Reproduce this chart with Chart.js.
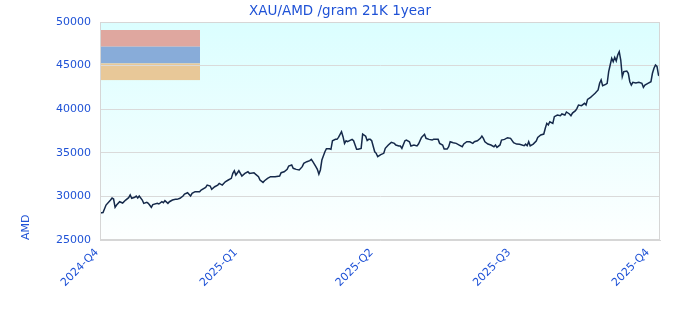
<!DOCTYPE html>
<html>
<head>
<meta charset="utf-8">
<script src="https://cdn.jsdelivr.net/npm/chart.js@4/dist/chart.umd.min.js"></script>
<style>
html,body{margin:0;padding:0;background:#fff;}
#wrap{width:680px;height:320px;}
</style>
</head>
<body>
<div id="wrap"><canvas id="c" width="680" height="320"></canvas></div>
<script>
const chartTitle = "XAU/AMD /gram 21K 1year";
const yAxisTitle = "AMD";
const quarterLabels = ["2024-Q4", "2025-Q1", "2025-Q2", "2025-Q3", "2025-Q4"];
const quarterDays = [0, 92, 182, 273, 365];
const lastDay = 371;
const yTicks = [25000, 30000, 35000, 40000, 45000, 50000];
const legendColors = ["#dfa79f", "#88acd9", "#e8c898"];

// day offset from 2024-10-01
const days = [0,2,4,7,8,9,10,11,13,15,17,19,20,21,23,24,25,26,28,29,31,32,34,35,38,39,41,42,43,45,46,48,50,51,53,55,56,58,60,61,63,66,67,70,71,73,74,76,78,79,81,83,85,87,88,89,90,92,93,94,96,98,99,102,103,105,106,108,109,111,113,116,119,120,122,124,125,127,128,130,132,134,135,137,139,140,141,143,144,145,146,147,149,150,152,153,154,156,157,158,160,161,162,163,164,167,168,170,171,173,174,176,177,178,179,180,182,183,184,186,188,189,191,193,195,196,198,199,200,202,203,205,206,208,210,211,213,215,216,218,220,221,224,225,227,228,230,231,232,234,236,238,240,241,243,245,247,248,250,252,253,254,255,257,259,261,262,263,265,266,268,270,272,274,276,278,281,282,283,284,285,287,289,290,292,294,295,296,297,298,300,301,303,305,306,308,309,311,312,313,315,316,317,319,321,322,323,325,326,328,330,331,332,333,335,336,337,338,339,340,341,342,343,344,345,346,347,349,350,351,352,353,355,357,359,360,361,363,365,366,367,368,369,370,371];
const prices = [28100,28150,29010,29580,29810,29700,28750,29010,29390,29240,29580,29850,30160,29780,29900,30040,29820,30040,29580,29200,29320,29200,28750,29060,29200,29130,29390,29280,29510,29200,29390,29580,29660,29660,29780,30040,30270,30420,30040,30350,30540,30540,30730,31040,31300,31190,30810,31110,31300,31490,31300,31680,31880,32070,32640,32940,32450,32940,32640,32340,32640,32830,32640,32720,32560,32260,31880,31610,31800,32070,32260,32260,32330,32720,32830,33100,33480,33600,33220,33100,33030,33410,33790,33980,34100,34250,33980,33410,33100,32560,33030,34170,35120,35470,35470,35400,36380,36540,36540,36770,37420,36850,36080,36380,36270,36540,36380,35400,35400,35500,37150,36900,36400,36540,36540,36380,35120,34940,34550,34790,34940,35510,35890,36200,36080,35890,35780,35780,35510,36380,36460,36270,35780,35890,35780,36010,36770,37120,36660,36540,36460,36540,36540,36080,35890,35430,35430,35700,36270,36150,36080,35890,35700,36010,36270,36270,36080,36270,36380,36660,36920,36660,36270,36010,35890,35700,35890,35620,35900,36460,36540,36730,36660,36150,36000,35990,35810,35990,35810,36270,35800,36000,36350,36770,37040,37150,37810,38380,38200,38560,38380,39140,39330,39250,39450,39330,39680,39450,39250,39560,39830,40100,40480,40400,40670,40480,41130,41360,41510,41820,42200,42970,43350,42690,42850,42970,44300,45070,45840,45450,45950,45530,46210,46590,45640,43730,44300,44380,44120,43150,42770,43080,43000,43080,42970,42510,42770,42970,43150,44120,44700,45070,44900,43920,43800];

const points = days.map((d, i) => ({x: d, y: prices[i]}));

const blue = "#1f52d6";
const fontFam = "'DejaVu Sans', sans-serif";

const bgPlugin = {
  id: 'bg',
  beforeDraw(chart) {
    const {ctx, chartArea: a} = chart;
    ctx.save();
    const g = ctx.createLinearGradient(0, a.top, 0, a.bottom);
    g.addColorStop(0, '#dbfeff');
    g.addColorStop(1, '#fdffff');
    ctx.fillStyle = g;
    ctx.fillRect(a.left, a.top, a.right - a.left, a.bottom - a.top);
    const w = 99, h = 16.7;
    legendColors.forEach((c, i) => {
      ctx.fillStyle = c;
      ctx.fillRect(a.left + 1, a.top + 8 + i * h, w, h);
    });
    // title
    ctx.fillStyle = blue;
    ctx.font = "13.5px " + fontFam;
    ctx.textAlign = 'center';
    ctx.textBaseline = 'middle';
    ctx.fillText(chartTitle, chart.width / 2, 11);
    ctx.restore();
  },
  afterDraw(chart) {
    const {ctx, chartArea: a} = chart;
    ctx.save();
    ctx.strokeStyle = '#d6d6d6';
    ctx.lineWidth = 1;
    ctx.strokeRect(Math.round(a.left) + 0.5, Math.round(a.top) + 0.5, Math.round(a.right - a.left) - 1, Math.round(a.bottom - a.top) - 1);
    ctx.restore();
  }
};

new Chart(document.getElementById('c'), {
  type: 'line',
  data: {
    datasets: [{
      data: points,
      borderColor: '#15294a',
      borderWidth: 1.5,
      pointRadius: 0,
      tension: 0,
      fill: false
    }]
  },
  options: {
    responsive: false,
    animation: false,
    layout: {padding: {left: 0, right: 20, top: 22, bottom: 0}},
    plugins: {
      legend: {display: false},
      tooltip: {enabled: false},
      title: {display: false}
    },
    scales: {
      x: {
        type: 'linear',
        min: 0,
        max: lastDay,
        afterBuildTicks(scale) {
          scale.ticks = quarterDays.map(v => ({value: v}));
        },
        afterFit(scale) { scale.height = 80; },
        grid: {display: false, drawTicks: false},
        border: {display: true, color: '#d6d6d6'},
        ticks: {
          autoSkip: false,
          minRotation: 45,
          maxRotation: 45,
          padding: 6,
          labelOffset: -3,
          color: blue,
          font: {family: fontFam, size: 11},
          callback(v) {
            const i = quarterDays.indexOf(v);
            return i >= 0 ? quarterLabels[i] : '';
          }
        }
      },
      y: {
        min: 25000,
        max: 50000,
        afterBuildTicks(scale) {
          scale.ticks = yTicks.map(v => ({value: v}));
        },
        afterFit(scale) { scale.width = 100; },
        grid: {color: '#dadada', drawTicks: false},
        border: {display: true, color: '#d6d6d6'},
        ticks: {
          padding: 9,
          color: blue,
          font: {family: fontFam, size: 11},
          callback(v) { return String(v); }
        },
        title: {
          display: true,
          text: yAxisTitle,
          align: 'start',
          color: blue,
          font: {family: fontFam, size: 11},
          padding: {top: 20, bottom: 0}
        }
      }
    }
  },
  plugins: [bgPlugin]
});
</script>
</body>
</html>
